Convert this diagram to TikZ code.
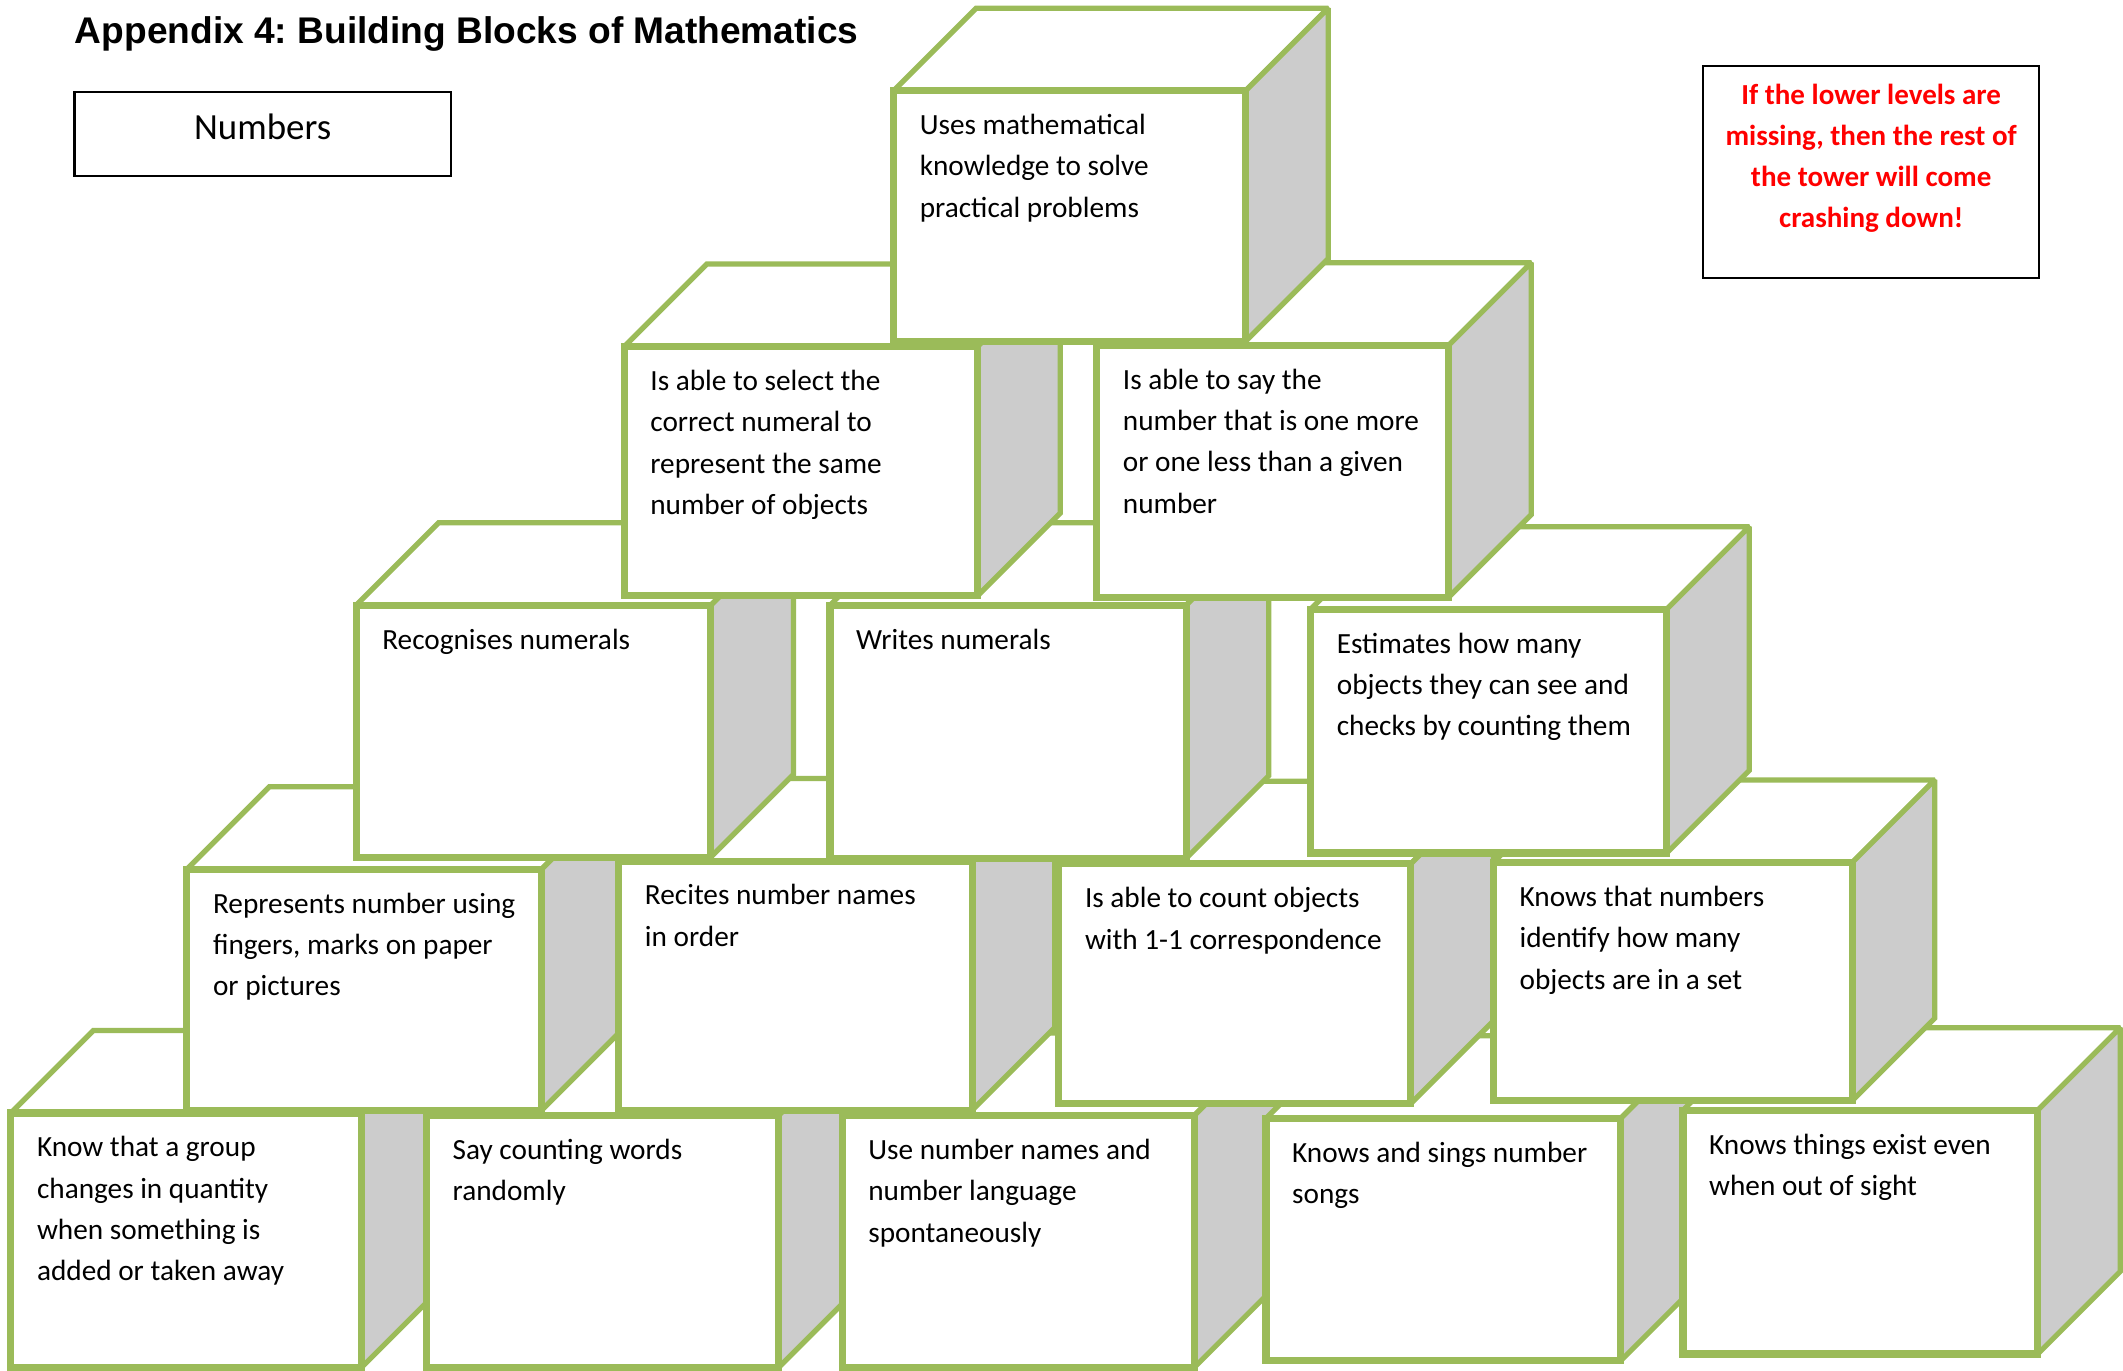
\documentclass[tikz,border=0pt]{standalone}
\usepackage{fontspec}
\setmainfont{Carlito}
\newfontfamily\headfont{Liberation Sans}

\definecolor{blockgreen}{HTML}{9BBB59}
\definecolor{sidegray}{HTML}{CCCCCC}
\definecolor{warnred}{HTML}{FF0000}

\tikzset{
  face/.style={draw=blockgreen, line width=2.2pt, fill=white, line join=miter, miter limit=1.5},
  sideface/.style={face, fill=sidegray},
  frontface/.style={face, line width=3pt},
  blocktext/.style={anchor=north west, inner sep=0pt, align=left,
    font=\fontsize{12.3}{17.4}\selectfont},
  notebox/.style={draw=black, line width=0.9pt},
}

% one block: name, left, top, right, bottom, text
\newcommand{\block}[6]{%
  \draw[face] (#2,#3) -- (#2+61,#3-61) -- (#4+61,#3-61) -- (#4,#3) -- cycle;
  \draw[sideface] (#4,#3) -- (#4+61,#3-61) -- (#4+61,#5-61) -- (#4,#5) -- cycle;
  \draw[frontface] (#2,#3) rectangle (#4,#5);
  \node[blocktext] (#1) at (#2+19,#3+17) {#6};
}

\frenchspacing

\begin{document}
\begin{tikzpicture}[x=0.02cm, y=-0.02cm]

  \useasboundingbox (0,0) rectangle (1568,1012);

  \node[anchor=base west, inner sep=0pt, font=\headfont\bfseries\fontsize{15.6}{18}\selectfont]
    (title) at (55,32) {Appendix 4: Building Blocks of Mathematics};

  \draw[notebox] (55,68) rectangle (333,130);
  \node[font=\fontsize{15.5}{18}\selectfont] (numbers) at (194,94) {Numbers};

  \draw[notebox] (1258,49) rectangle (1506,205);
  \node[align=center, text=warnred, font=\bfseries\fontsize{12.2}{17.3}\selectfont]
    (warning) at (1382,117) {If the lower levels are\\missing, then the rest of\\the tower will come\\crashing down!};

  % bottom row
  \block{group}{8}{822}{267}{1010}{Know that a group\\changes in quantity\\when something is\\added or taken away}
  \block{counting}{315}{824}{575}{1010}{Say counting words\\randomly}
  \block{language}{622}{824}{882}{1010}{Use number names and\\number language\\spontaneously}
  \block{songs}{935}{826}{1197}{1005}{Knows and sings number\\songs}
  \block{sight}{1243}{820}{1505}{1000}{Knows things exist even\\when out of sight}

  % second row
  \block{fingers}{138}{642}{400}{820}{Represents number using\\fingers, marks on paper\\or pictures}
  \block{recites}{457}{636}{718}{820}{Recites number names\\in order}
  \block{onetoone}{782}{638}{1042}{815}{Is able to count objects\\with 1-1 correspondence}
  \block{howmany}{1103}{637}{1368}{813}{Knows that numbers\\identify how many\\objects are in a set}

  % third row
  \block{recognises}{263}{447}{525}{633}{Recognises numerals}
  \block{writes}{613}{447}{876}{634}{Writes numerals}
  \block{estimates}{968}{450}{1231}{630}{Estimates how many\\objects they can see and\\checks by counting them}

  % fourth row
  \block{select}{461}{256}{722}{440}{Is able to select the\\correct numeral to\\represent the same\\number of objects}
  \block{moreless}{810}{255}{1070}{441}{Is able to say the\\number that is one more\\or one less than a given\\number}

  % top
  \block{problems}{660}{67}{920}{252}{Uses mathematical\\knowledge to solve\\practical problems}

\end{tikzpicture}
\end{document}
